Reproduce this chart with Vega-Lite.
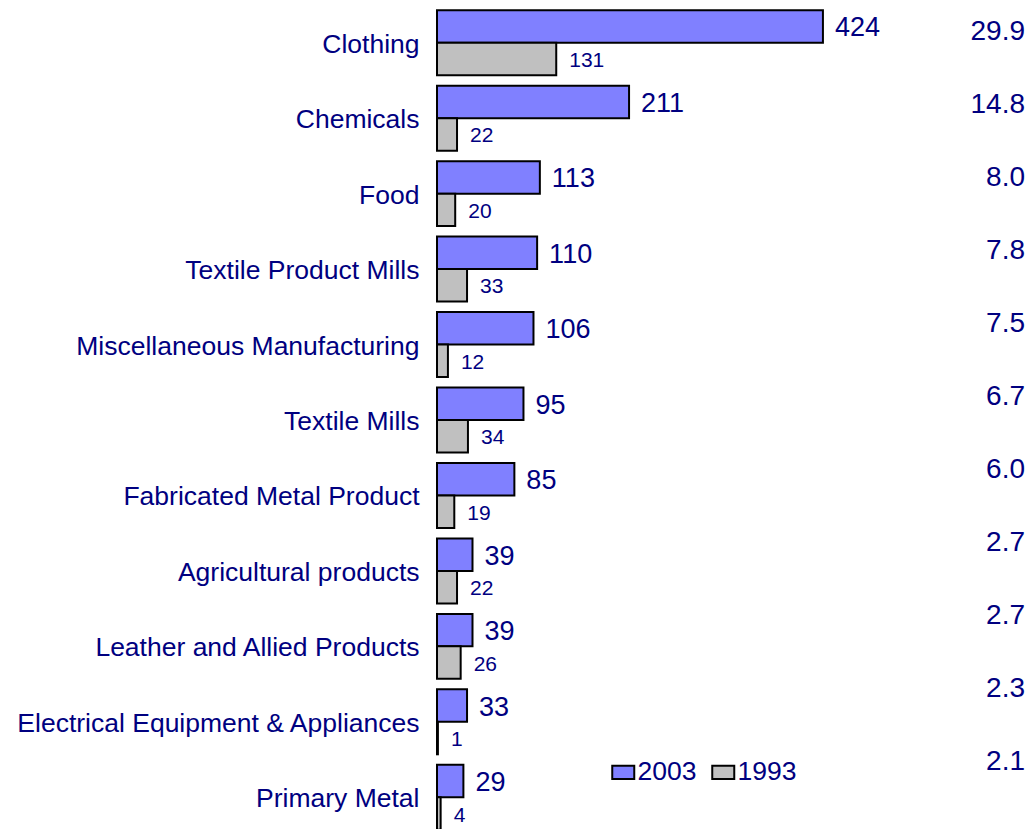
{
  "$schema": "https://vega.github.io/schema/vega-lite/v6.json",
  "autosize": "none",
  "width": 588,
  "height": 830,
  "padding": {"left": 437, "top": 5, "right": 9, "bottom": 0},
  "background": "white",
  "config": {
    "view": {"stroke": null},
    "font": "Liberation Sans",
    "text": {"font": "Liberation Sans", "color": "#000080"}
  },
  "datasets": {
    "bars": [
      {"industry": "Clothing", "year": "2003", "value": 424},
      {"industry": "Clothing", "year": "1993", "value": 131},
      {"industry": "Chemicals", "year": "2003", "value": 211},
      {"industry": "Chemicals", "year": "1993", "value": 22},
      {"industry": "Food\u2002", "year": "2003", "value": 113},
      {"industry": "Food\u2002", "year": "1993", "value": 20},
      {"industry": "Textile Product Mills", "year": "2003", "value": 110},
      {"industry": "Textile Product Mills", "year": "1993", "value": 33},
      {"industry": "Miscellaneous Manufacturing", "year": "2003", "value": 106},
      {"industry": "Miscellaneous Manufacturing", "year": "1993", "value": 12},
      {"industry": "Textile Mills", "year": "2003", "value": 95},
      {"industry": "Textile Mills", "year": "1993", "value": 34},
      {"industry": "Fabricated Metal Product", "year": "2003", "value": 85},
      {"industry": "Fabricated Metal Product", "year": "1993", "value": 19},
      {"industry": "Agricultural products", "year": "2003", "value": 39},
      {"industry": "Agricultural products", "year": "1993", "value": 22},
      {"industry": "Leather and Allied Products", "year": "2003", "value": 39},
      {"industry": "Leather and Allied Products", "year": "1993", "value": 26},
      {"industry": "Electrical Equipment & Appliances", "year": "2003", "value": 33},
      {"industry": "Electrical Equipment & Appliances", "year": "1993", "value": 1},
      {"industry": "Primary Metal", "year": "2003", "value": 29},
      {"industry": "Primary Metal", "year": "1993", "value": 4}
    ],
    "shares": [
      {"industry": "Clothing", "share": 29.9},
      {"industry": "Chemicals", "share": 14.8},
      {"industry": "Food\u2002", "share": 8.0},
      {"industry": "Textile Product Mills", "share": 7.8},
      {"industry": "Miscellaneous Manufacturing", "share": 7.5},
      {"industry": "Textile Mills", "share": 6.7},
      {"industry": "Fabricated Metal Product", "share": 6.0},
      {"industry": "Agricultural products", "share": 2.7},
      {"industry": "Leather and Allied Products", "share": 2.7},
      {"industry": "Electrical Equipment & Appliances", "share": 2.3},
      {"industry": "Primary Metal", "share": 2.1}
    ]
  },
  "resolve": {"scale": {"y": "independent"}},
  "layer": [
    {
      "data": {"name": "bars"},
      "mark": {"type": "bar", "stroke": "black", "strokeWidth": 2},
      "encoding": {
        "y": {
          "field": "industry", "type": "nominal", "sort": null,
          "scale": {"paddingInner": 0.139, "paddingOuter": 0.0695},
          "axis": {"title": null, "ticks": false, "domain": false, "grid": false,
                   "labelFont": "Liberation Sans", "labelFontSize": 26.5, "labelColor": "#000080",
                   "labelPadding": 18, "labelLimit": 600, "labelOffset": 2}
        },
        "yOffset": {"field": "year", "type": "nominal", "sort": ["2003", "1993"], "scale": {"paddingInner": 0, "paddingOuter": 0}},
        "x": {"field": "value", "type": "quantitative", "scale": {"domain": [0, 646], "nice": false, "zero": true}, "axis": null},
        "fill": {
          "field": "year", "type": "nominal",
          "scale": {"domain": ["2003", "1993"], "range": ["#8080FF", "#C0C0C0"]},
          "legend": {
            "title": null, "orient": "none", "direction": "horizontal",
            "legendX": 173, "legendY": 754,
            "symbolType": "M-1,-0.6H1V0.6H-1Z", "symbolSize": 484,
            "symbolStrokeColor": "black", "symbolStrokeWidth": 2,
            "labelFont": "Liberation Sans", "labelFontSize": 26.5, "labelColor": "#000080",
            "labelOffset": 1, "columnPadding": 11, "padding": 0
          }
        }
      }
    },
    {
      "data": {"name": "bars"},
      "transform": [{"filter": "datum.year === '2003'"}],
      "mark": {"type": "text", "align": "left", "baseline": "middle", "dx": 12, "dy": 2, "fontSize": 27},
      "encoding": {
        "y": {"field": "industry", "type": "nominal", "sort": null, "scale": {"paddingInner": 0.139, "paddingOuter": 0.0695}, "axis": null},
        "yOffset": {"field": "year", "type": "nominal", "sort": ["2003", "1993"], "scale": {"domain": ["2003", "1993"], "paddingInner": 0, "paddingOuter": 0}},
        "x": {"field": "value", "type": "quantitative", "scale": {"domain": [0, 646], "nice": false}},
        "text": {"field": "value", "type": "quantitative"}
      }
    },
    {
      "data": {"name": "bars"},
      "transform": [{"filter": "datum.year === '1993'"}],
      "mark": {"type": "text", "align": "left", "baseline": "middle", "dx": 13, "dy": 2, "fontSize": 21},
      "encoding": {
        "y": {"field": "industry", "type": "nominal", "sort": null, "scale": {"paddingInner": 0.139, "paddingOuter": 0.0695}, "axis": null},
        "yOffset": {"field": "year", "type": "nominal", "sort": ["2003", "1993"], "scale": {"domain": ["2003", "1993"], "paddingInner": 0, "paddingOuter": 0}},
        "x": {"field": "value", "type": "quantitative", "scale": {"domain": [0, 646], "nice": false}},
        "text": {"field": "value", "type": "quantitative"}
      }
    },
    {
      "data": {"name": "shares"},
      "mark": {"type": "text", "align": "right", "baseline": "middle", "fontSize": 28, "x": "width"},
      "encoding": {
        "y": {"field": "industry", "type": "nominal", "sort": null, "scale": {"type": "point", "padding": 0.685, "align": 0.27}, "axis": null},
        "text": {"field": "share", "type": "quantitative", "format": ".1f"}
      }
    }
  ]
}
